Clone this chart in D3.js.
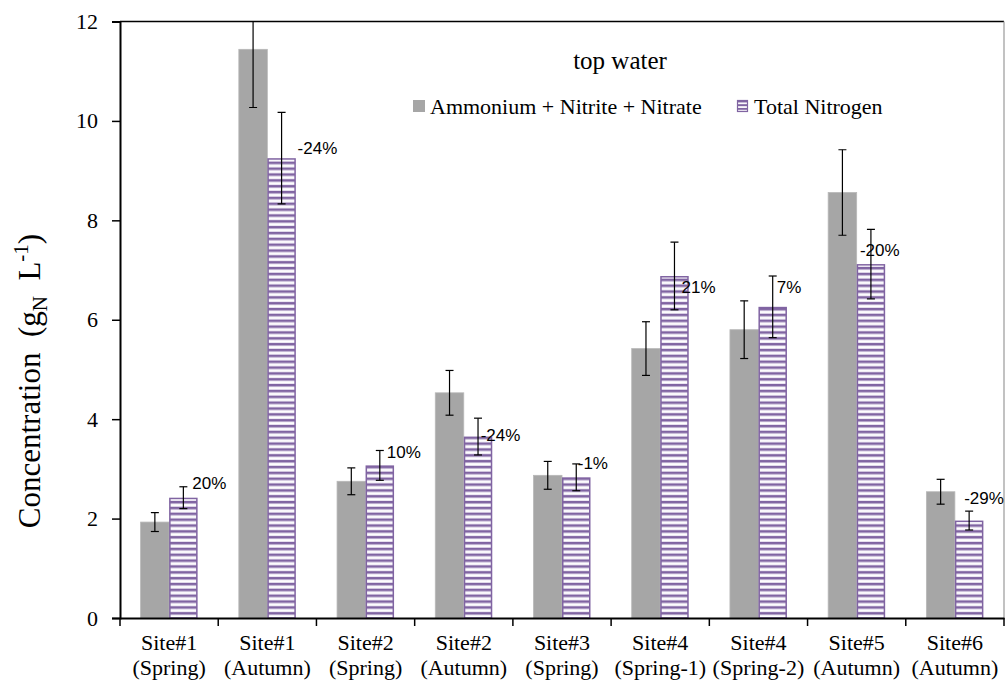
<!DOCTYPE html>
<html>
<head>
<meta charset="utf-8">
<script src="https://cdn.jsdelivr.net/npm/d3@7/dist/d3.min.js"></script>
<style>
html,body{margin:0;padding:0;background:#fff;}
svg{display:block;}
</style>
</head>
<body>
<svg id="chart" width="1005" height="681"></svg>
<script>
// ---- data ----
const sites = ["Site#1","Site#1","Site#2","Site#2","Site#3","Site#4","Site#4","Site#5","Site#6"];
const seasons = ["(Spring)","(Autumn)","(Spring)","(Autumn)","(Spring)","(Spring-1)","(Spring-2)","(Autumn)","(Autumn)"];
const sumInorganic = [1.93, 11.44, 2.75, 4.53, 2.87, 5.42, 5.80, 8.56, 2.54];
const sumInorganicErr = [0.19, 1.17, 0.27, 0.45, 0.28, 0.54, 0.58, 0.86, 0.25];
const totalN = [2.42, 9.25, 3.07, 3.65, 2.83, 6.88, 6.26, 7.12, 1.96];
const totalNErr = [0.22, 0.92, 0.30, 0.37, 0.27, 0.68, 0.62, 0.70, 0.19];
const pctLabels = ["20%","-24%","10%","-24%","-1%","21%","7%","-20%","-29%"];
const yTicks = [0, 2, 4, 6, 8, 10, 12];
const seriesNames = ["Ammonium + Nitrite + Nitrate", "Total Nitrogen"];
// label placement (annotation layout): [dx from TN bar centre, value level]
const labelLayout = [[9,2.71],[16,9.45],[7,3.34],[2.6,3.68],[1.5,3.12],[7,6.65],[4,6.65],[-11,7.40],[-5,2.41]];

// ---- layout ----
const L = 120, R = 1004, T = 21.5, B = 618;
const svg = d3.select("#chart");
const grey = "#A6A6A6", purple = "#8064A2";
const serif = "'Liberation Serif','Times New Roman',serif";
const sans = "'Liberation Sans',Arial,sans-serif";

const idx = d3.range(sites.length);
const x = d3.scaleBand().domain(idx).range([L, R]).paddingInner(0).paddingOuter(0);
const xs = d3.scaleBand().domain([0,1]).range([0, x.bandwidth()]).paddingInner(0).paddingOuter(0.723);
const y = d3.scaleLinear().domain([0, 12]).range([B, T]);

// hatch pattern
const defs = svg.append("defs");
const pat = defs.append("pattern").attr("id","hatch").attr("patternUnits","userSpaceOnUse")
  .attr("width", 8).attr("height", 5.85).attr("y", B);
pat.append("rect").attr("width",8).attr("height",5.85).attr("fill","#fff");
pat.append("rect").attr("y",0).attr("width",8).attr("height",2.6).attr("fill",purple);
pat.append("rect").attr("y",2.6).attr("width",8).attr("height",0.5).attr("fill","#d6cbe4");
pat.append("rect").attr("y",5.35).attr("width",8).attr("height",0.5).attr("fill","#d6cbe4");
const patL = defs.append("pattern").attr("id","hatchL").attr("patternUnits","userSpaceOnUse")
  .attr("width",8).attr("height",3.7).attr("y",100.5);
patL.append("rect").attr("width",8).attr("height",3.7).attr("fill","#fff");
patL.append("rect").attr("width",8).attr("height",2).attr("fill",purple);

const clip = defs.append("clipPath").attr("id","plotclip");
clip.append("rect").attr("x", L).attr("y", T).attr("width", R-L).attr("height", B-T);

const g = svg.append("g");

// bars
const groups = g.selectAll("g.grp").data(idx).join("g").attr("class","grp")
  .attr("transform", d => `translate(${x(d)},0)`);

groups.append("rect")
  .attr("x", xs(0)).attr("width", xs.bandwidth())
  .attr("y", d => y(sumInorganic[d])).attr("height", d => B - y(sumInorganic[d]))
  .attr("fill", grey).attr("stroke", "#b8b8b8").attr("stroke-width", 0.8);

groups.append("rect")
  .attr("x", xs(1)+0.75).attr("width", xs.bandwidth()-1.5)
  .attr("y", d => y(totalN[d])+0.75).attr("height", d => B - y(totalN[d]) - 0.75)
  .attr("fill", "url(#hatch)").attr("stroke", purple).attr("stroke-width", 1.5);

// error bars
const eg = g.append("g").attr("clip-path","url(#plotclip)");
function errBars(vals, errs, k){
  idx.forEach(i => {
    const cx = x(i) + xs(k) + xs.bandwidth()/2;
    const y1 = y(vals[i] + errs[i]), y0 = y(vals[i] - errs[i]);
    eg.append("line").attr("x1",cx).attr("x2",cx).attr("y1",y1).attr("y2",y0)
      .attr("stroke","#000").attr("stroke-width",1.2);
    [y1,y0].forEach(yy => eg.append("line").attr("x1",cx-4).attr("x2",cx+4).attr("y1",yy).attr("y2",yy)
      .attr("stroke","#000").attr("stroke-width",1.2));
  });
}
errBars(sumInorganic, sumInorganicErr, 0);
errBars(totalN, totalNErr, 1);

// frame top/right
g.append("line").attr("x1",L).attr("x2",R).attr("y1",T).attr("y2",T).attr("stroke","#000").attr("stroke-width",1.5);
g.append("line").attr("x1",R).attr("x2",R).attr("y1",T).attr("y2",B).attr("stroke","#999").attr("stroke-width",1.2);

// y axis
const yAxis = d3.axisLeft(y).tickValues(yTicks).tickSize(8).tickPadding(14).tickFormat(d3.format("d"));
const ya = svg.append("g").attr("transform",`translate(${L},0)`).call(yAxis);
ya.select(".domain").attr("stroke","#000").attr("stroke-width",2);
ya.selectAll(".tick line").attr("stroke","#000").attr("stroke-width",1.5);
ya.selectAll(".tick text").attr("font-family",serif).attr("font-size",22).attr("fill","#000");

// x axis
const xAxis = d3.axisBottom(x).tickSize(0).tickFormat("");
const xa = svg.append("g").attr("transform",`translate(0,${B})`).call(xAxis);
xa.select(".domain").attr("stroke","#000").attr("stroke-width",2);
xa.selectAll(".tick").remove();
const bounds = idx.map(i => x(i)).concat([R]);
xa.selectAll("line.bt").data(bounds).join("line").attr("class","bt")
  .attr("x1",d=>d).attr("x2",d=>d).attr("y1",0).attr("y2",8).attr("stroke","#000").attr("stroke-width",1.5);
const xl = svg.append("g");
idx.forEach(i => {
  const t = xl.append("text").attr("x", x(i)+x.bandwidth()/2).attr("y", B+32)
    .attr("text-anchor","middle").attr("font-family",serif).attr("font-size",22).attr("fill","#000");
  t.append("tspan").attr("x", x(i)+x.bandwidth()/2).text(sites[i]);
  t.append("tspan").attr("x", x(i)+x.bandwidth()/2).attr("dy", 25).text(seasons[i]);
});

// percentage labels
idx.forEach(i => {
  const cx = x(i) + xs(1) + xs.bandwidth()/2;
  svg.append("text").attr("x", cx + labelLayout[i][0]).attr("y", y(labelLayout[i][1]))
    .attr("dy","0.35em").attr("font-family",sans).attr("font-size",17).attr("fill","#000")
    .text(pctLabels[i]);
});

// y label
const ylab = svg.append("text").attr("transform","translate(40,381) rotate(-90)")
  .attr("text-anchor","middle").attr("font-family",serif).attr("font-size",31).attr("fill","#000")
  .attr("xml:space","preserve").style("white-space","pre");
ylab.append("tspan").text("Concentration  (g");
ylab.append("tspan").attr("font-size",21).attr("dy",7).text("N");
ylab.append("tspan").attr("dy",-7).text("  L");
ylab.append("tspan").attr("font-size",21).attr("dy",-12).text("-1");
ylab.append("tspan").attr("dy",12).text(")");

// title and legend
svg.append("text").attr("x",620).attr("y",69).attr("text-anchor","middle")
  .attr("font-family",serif).attr("font-size",25).attr("fill","#000").text("top water");
const leg = svg.append("g");
leg.append("rect").attr("x",413).attr("y",100).attr("width",12).attr("height",12).attr("fill",grey);
leg.append("text").attr("x",430).attr("y",114).attr("font-family",serif).attr("font-size",22).attr("fill","#000").text(seriesNames[0]);
leg.append("rect").attr("x",737.5).attr("y",100.5).attr("width",10).attr("height",11).attr("fill","url(#hatchL)").attr("stroke",purple).attr("stroke-width",1.2);
leg.append("text").attr("x",754).attr("y",114).attr("font-family",serif).attr("font-size",22).attr("fill","#000").text(seriesNames[1]);
</script>
</body>
</html>
